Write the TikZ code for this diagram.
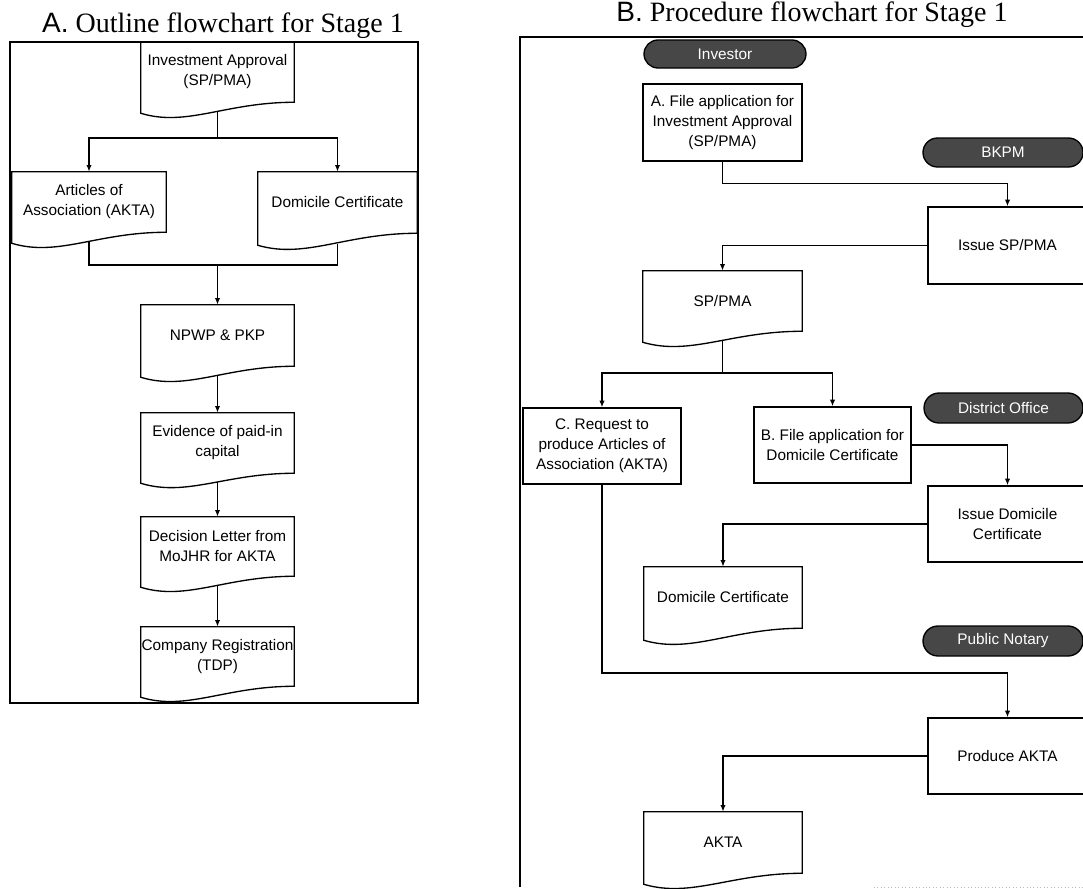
\documentclass[tikz,border=0pt]{standalone}
\usepackage{fontspec}
\setmainfont{Liberation Serif}
\newfontfamily\arialf{Liberation Sans}
\usetikzlibrary{calc,arrows.meta,shapes.misc}
\tikzset{
  ln/.style={line width=1pt},
  arr/.style={ln,-{Latex[length=5pt,width=4pt]}},
  lbl/.style={font=\arialf\fontsize{11.5}{15}\selectfont, align=center},
  procbox/.style 2 args={lbl,draw,ln,rectangle,inner sep=0pt,
      minimum width=#1*0.75pt, minimum height=#2*0.75pt},
  docnode/.style 2 args={lbl,rectangle,inner sep=0pt,
      minimum width=#1*0.75pt, minimum height=#2*0.75pt},
  lane/.style 2 args={lbl,shape=rounded rectangle,fill=black!72,draw=black,ln,
      text=white,inner sep=0pt,minimum width=#1*0.75pt, minimum height=#2*0.75pt},
  title/.style={anchor=base,font=\fontsize{21}{25}\selectfont},
}
% document shape outline: node name, dip of left corner (px)
\newcommand\docout[2]{%
  \draw[ln] (#1.north west) -- (#1.north east) -- (#1.south east)
    .. controls ($(#1.south west)!0.55!(#1.south east)$)
       and ($(#1.south west)!0.3!(#1.south east)+(0,#2+14)$)
    .. ($(#1.south west)+(0,#2)$) -- cycle;
  \coordinate (#1-b) at ($(#1.south)+(0,#2-1)$);}
\begin{document}
\begin{tikzpicture}[x=0.75pt,y=-0.75pt]
\useasboundingbox (0,0) rectangle (1083,889);
\clip (0,0) rectangle (1083,889);

% ---------- titles ----------
\node[title] (tA) at (223,32) {{\arialf A.} Outline flowchart for Stage 1};
\node[title] (tB) at (812,21) {{\arialf B.} Procedure flowchart for Stage 1};

% ---------- panel A ----------
\draw[ln] (10,42) rectangle (418,703);

\node[docnode={153}{60}] (inv) at (217.5,72) {Investment Approval\\(SP/PMA)};
\docout{inv}{11}
\node[docnode={154}{60}] (art) at (89,202) {Articles of\\Association (AKTA)};
\docout{art}{11}
\node[docnode={159}{61}] (dom) at (337.5,202.5) {Domicile Certificate};
\docout{dom}{12}
\node[docnode={153}{61}] (npwp) at (217.5,335.5) {NPWP \& PKP};
\docout{npwp}{11}
\node[docnode={153}{60}] (evid) at (217.5,443) {Evidence of paid-in\\capital};
\docout{evid}{10}
\node[docnode={153}{59}] (dec) at (217.5,546.5) {Decision Letter from\\MoJHR for AKTA};
\docout{dec}{11}
\node[docnode={153}{59}] (comp) at (217.5,656.5) {Company Registration\\(TDP)};
\docout{comp}{11}

\coordinate (s1) at (217.5,138);
\draw[ln] (inv-b) -- (s1);
\draw[arr] (s1) -| (art.north);
\draw[arr] (s1) -| (dom.north);
\coordinate (m1) at (217.5,265);
\draw[ln] (art-b) |- (m1);
\draw[ln] (dom-b) |- (m1);
\draw[arr] (m1) -- (npwp.north);
\draw[arr] (npwp-b) -- (evid.north);
\draw[arr] (evid-b) -- (dec.north);
\draw[arr] (dec-b) -- (comp.north);

% ---------- panel B ----------
\draw[ln] (520,887) -- (520,37) -- (1090,37);
\draw[gray!55,dotted,line width=0.6pt] (874,887) -- (1090,887);

\node[lane={162}{28}] (investor) at (725,54) {Investor};
\node[lane={160}{29}] (bkpm) at (1003,152.5) {BKPM};
\node[lane={159}{30}] (district) at (1003.5,408) {District Office};
\node[lane={160}{30}] (notary) at (1003,641) {Public Notary};

\node[procbox={159}{77}] (A) at (722.5,122.5) {A. File application for\\Investment Approval\\(SP/PMA)};
\node[procbox={159}{77}] (issue1) at (1007.5,245.5) {Issue SP/PMA};
\node[docnode={159}{60}] (sppma) at (722.5,301) {SP/PMA};
\docout{sppma}{11}
\node[procbox={158}{76}] (C) at (602,446) {C. Request to\\produce Articles of\\Association (AKTA)};
\node[procbox={157}{76}] (B) at (832.5,445) {B. File application for\\Domicile Certificate};
\node[procbox={159}{76}] (issue2) at (1007.5,524) {Issue Domicile\\Certificate};
\node[docnode={158}{61}] (domdoc) at (723,597.5) {Domicile Certificate};
\docout{domdoc}{12}
\node[procbox={159}{76}] (produce) at (1007.5,756) {Produce AKTA};
\node[docnode={158}{61}] (akta) at (723,842.5) {AKTA};
\docout{akta}{11}

\draw[arr] (A.south) -- ++(0,22) -| (issue1.north);
\draw[arr] (issue1.west) -| (sppma.north);
\coordinate (s2) at (722.5,373);
\draw[ln] (sppma-b) -- (s2);
\draw[arr] (s2) -| (C.north);
\draw[arr] (s2) -| (B.north);
\draw[arr] (B.east) -| (issue2.north);
\draw[arr] (issue2.west) -| (domdoc.north);
\coordinate (j3) at (602,673);
\draw[arr] (C.south) -- (j3) -| (produce.north);
\draw[arr] (produce.west) -| (akta.north);
\end{tikzpicture}
\end{document}
